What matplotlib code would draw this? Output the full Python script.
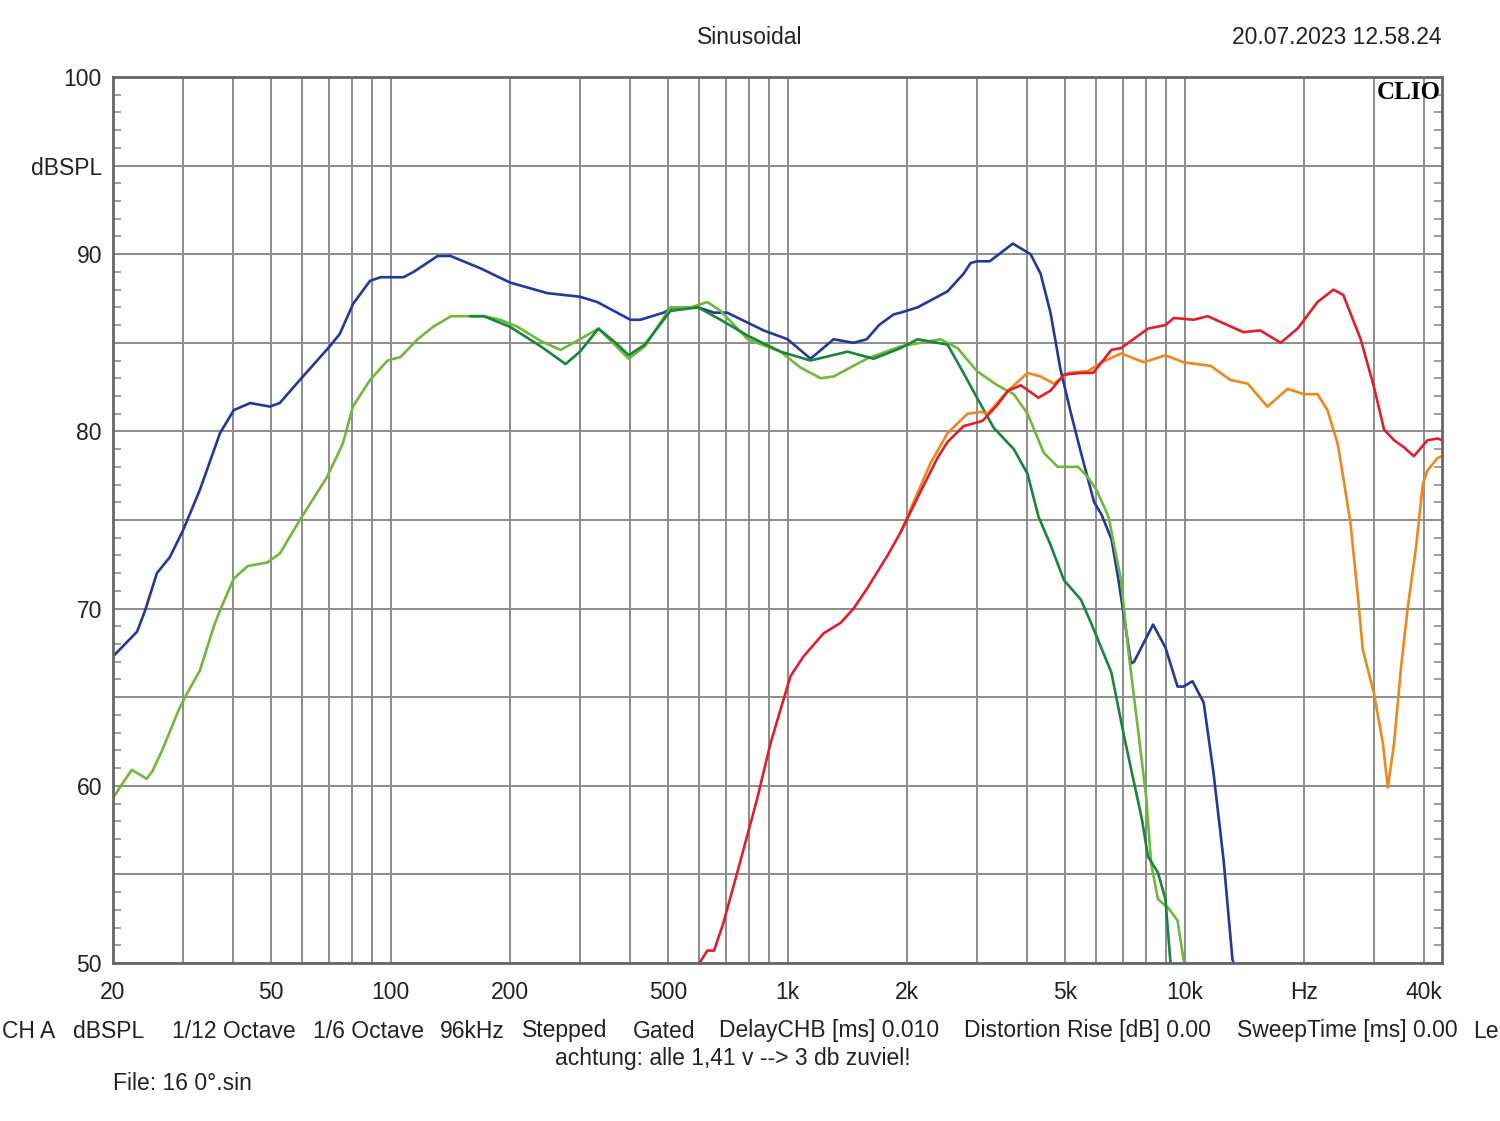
import numpy as np
import matplotlib
matplotlib.use('Agg')
import matplotlib.pyplot as plt
from matplotlib.ticker import NullLocator, MultipleLocator

plt.rcParams['font.family'] = ['Liberation Sans', 'DejaVu Sans']

# --- data (frequency in Hz, level in dBSPL) ---
blue_f = [20, 23.0, 24.1, 25.8, 27.8, 30, 33.1, 37.2, 40.3, 44.3, 49.7, 52.6, 59.1, 70.3,
          74.5, 80.5, 88.8, 94.4, 107.8, 114.3, 131.4, 141.6, 168.6, 200, 248.5, 300,
          331.7, 402, 426, 487, 516, 595, 653, 705, 870, 1000, 1143, 1306, 1466, 1583,
          1700, 1849, 1926, 2125, 2528, 2776, 2891, 3000, 3230, 3694, 4093, 4338, 4595,
          4868, 5176, 5483, 5918, 6180, 6547, 6818, 7330, 7460, 8330, 8950, 9600, 9940,
          10470, 11170, 11830, 12540, 13200, 13500]
blue_db = [67.3, 68.7, 69.9, 72.0, 72.9, 74.4, 76.7, 79.9, 81.2, 81.6, 81.4, 81.6, 82.9, 84.8,
           85.5, 87.2, 88.5, 88.7, 88.7, 89.0, 89.9, 89.9, 89.2, 88.4, 87.8, 87.6,
           87.3, 86.3, 86.3, 86.7, 87.0, 87.0, 86.7, 86.7, 85.7, 85.2, 84.1, 85.2, 85.0, 85.2,
           86.0, 86.6, 86.7, 87.0, 87.9, 88.9, 89.5, 89.6, 89.6, 90.6, 90.0, 88.9, 86.7,
           83.5, 81.0, 78.8, 76.0, 75.3, 73.9, 71.6, 66.9, 67.0, 69.1, 67.8, 65.6, 65.6,
           65.9, 64.7, 60.7, 55.8, 50.2, 49.5]

lgreen_f = [20, 20.8, 22.3, 24.3, 25.1, 26.6, 29.3, 30.7, 33.1, 35.9, 37.2, 40.3, 43.7, 48.9,
            52.6, 59.1, 69.1, 75.8, 80.4, 88.8, 98.3, 106, 117, 128, 142, 156, 172, 189,
            209, 239, 268, 300, 334, 398, 437, 507, 570, 628, 678, 794, 960, 1078, 1212,
            1306, 1583, 1926, 2428, 2680, 3000, 3378, 3714, 4023, 4417, 4791, 5393, 5713,
            6000, 6430, 6920, 7200, 7640, 8000, 8240, 8570, 9100, 9600, 9940, 10100]
lgreen_db = [59.3, 59.9, 60.9, 60.4, 60.8, 62.0, 64.3, 65.2, 66.5, 69.0, 69.9, 71.7, 72.4, 72.6,
             73.1, 75.0, 77.4, 79.3, 81.4, 82.9, 84.0, 84.2, 85.2, 85.9, 86.5, 86.5, 86.5, 86.3,
             85.9, 85.1, 84.6, 85.2, 85.8, 84.1, 84.8, 87.0, 87.0, 87.3, 86.8, 85.2, 84.5, 83.6, 83.0,
             83.1, 84.1, 84.8, 85.2, 84.7, 83.4, 82.6, 82.1, 81.0, 78.8, 78.0, 78.0, 77.4,
             76.7, 75.2, 71.6, 67.8, 63.1, 59.4, 55.6, 53.6, 53.1, 52.4, 50.2, 49.5]

dgreen_f = [159, 172, 200, 239, 276, 300, 334, 369, 398, 437, 507, 595, 678, 794, 960, 1143,
            1416, 1647, 1926, 2125, 2528, 2727, 3000, 3306, 3714, 4023, 4284, 4595, 4970,
            5483, 5810, 6540, 7040, 7810, 8090, 8570, 8950, 9200, 9300]
dgreen_db = [86.5, 86.5, 85.9, 84.8, 83.8, 84.5, 85.8, 85.0, 84.3, 84.9, 86.8, 87.0, 86.3, 85.4,
             84.5, 84.0, 84.5, 84.1, 84.7, 85.2, 84.9, 83.6, 81.9, 80.2, 79.0, 77.6, 75.2, 73.6,
             71.6, 70.5, 69.2, 66.4, 62.8, 58.1, 56.0, 55.1, 53.6, 50.2, 49.5]

red_f = [585, 628, 653, 688, 749, 794, 837, 906, 960, 1018, 1097, 1232, 1361, 1466, 1583,
         1786, 1926, 2005, 2162, 2386, 2528, 2776, 3000, 3100, 3378, 3594, 3871, 4284, 4595,
         4970, 5483, 5884, 6180, 6540, 6920, 8090, 8950, 9400, 10540, 11430, 14070, 15500,
         17460, 19250, 21620, 23710, 25100, 27770, 30000, 31800, 33700, 35700, 37800, 40900,
         43400, 44500]
red_db = [49.6, 50.7, 50.7, 52.2, 55.2, 57.3, 59.2, 62.4, 64.3, 66.2, 67.3, 68.6, 69.2, 70.0, 71.1,
          73.0, 74.3, 75.1, 76.6, 78.5, 79.4, 80.3, 80.5, 80.6, 81.5, 82.3, 82.6, 81.9, 82.3,
          83.2, 83.3, 83.3, 83.9, 84.6, 84.7, 85.8, 86.0, 86.4, 86.3, 86.5, 85.6, 85.7,
          85.0, 85.8, 87.3, 88.0, 87.7, 85.2, 82.5, 80.1, 79.5, 79.1, 78.6, 79.5,
          79.6, 79.5]

orange_f = [1926, 2076, 2290, 2528, 2840, 3070, 3190, 3594, 4023, 4338, 4680, 5090, 5713, 6180,
            6920, 7900, 8950, 9940, 11630, 13050, 14410, 16170, 18170, 20000, 21620, 22900,
            24300, 25100, 26180, 27270, 28100, 30000, 31580, 32500, 33700, 35100, 36500,
            38300, 39800, 40900, 43400, 44500]
orange_db = [74.3, 76.0, 78.2, 79.9, 81.0, 81.1, 81.0, 82.3, 83.3, 83.1, 82.7, 83.3, 83.4, 83.9,
             84.4, 83.9, 84.3, 83.9, 83.7, 82.9, 82.7, 81.4, 82.4, 82.1, 82.1, 81.2,
             79.3, 77.4, 74.8, 70.9, 67.7, 65.2, 62.4, 59.9, 62.4, 66.7, 70.1,
             73.5, 77.0, 77.8, 78.5, 78.6]

grid_freqs = [20, 30, 40, 50, 60, 70, 80, 90, 100, 200, 300, 400, 500, 600, 700, 800, 900,
              1000, 2000, 3000, 4000, 5000, 6000, 7000, 8000, 9000, 10000, 20000, 30000, 40000]
x_labels = {20: '20', 50: '50', 100: '100', 200: '200', 500: '500', 1000: '1k', 2000: '2k',
            5000: '5k', 10000: '10k', 20000: 'Hz', 40000: '40k'}
y_grid = [50, 55, 60, 65, 70, 75, 80, 85, 90, 95, 100]
y_labels = ['50', '', '60', '', '70', '', '80', '', '90', 'dBSPL', '100']

# --- figure ---
fig = plt.figure(figsize=(15, 11.21), dpi=100)
ax = fig.add_axes([113 / 1500, 1 - 963 / 1121, (1442 - 113) / 1500, (963 - 77) / 1121])

gcol = '#8c8c8c'
ax.set_xscale('log')
ax.set_xlim(20, 44500)
ax.set_ylim(50, 100)
ax.xaxis.set_minor_locator(NullLocator())
ax.set_xticks(grid_freqs)
ax.set_xticklabels([x_labels.get(f, '') for f in grid_freqs])
ax.set_yticks(y_grid)
ax.set_yticklabels(y_labels)
ax.yaxis.set_minor_locator(MultipleLocator(1))
ax.grid(True, which='major', color=gcol, linewidth=1.4)
ax.set_axisbelow(True)
ax.tick_params(axis='both', which='major', length=0, labelsize=16.5, colors='#222222')
ax.tick_params(axis='x', which='major', pad=13)
ax.tick_params(axis='y', which='major', pad=8)
ax.tick_params(axis='y', which='minor', direction='in', left=True, right=True,
               length=6, width=1.2, color=gcol)
for s in ax.spines.values():
    s.set_color('#666666')
    s.set_linewidth(2)

lw = 1.9
ax.plot(blue_f, blue_db, color='#22389a', lw=lw)
ax.plot(lgreen_f, lgreen_db, color='#6fb83a', lw=lw)
ax.plot(dgreen_f, dgreen_db, color='#17853a', lw=lw)
ax.plot(orange_f, orange_db, color='#f0861c', lw=lw)
ax.plot(red_f, red_db, color='#e01f2a', lw=lw)

ax.text(0.999, 0.995, 'CLIO', transform=ax.transAxes, ha='right', va='top',
        fontsize=18, fontweight='bold', family='Liberation Serif', color='black')

fs = 16.5
fig.text(750 / 1500, 1 - 38 / 1121, 'Sinusoidal', ha='center', va='center', fontsize=fs, color='#222222')
fig.text(1442 / 1500, 1 - 38 / 1121, '20.07.2023 12.58.24', ha='right', va='center', fontsize=fs, color='#222222')

bottom_items = [(2, 'CH A'), (73, 'dBSPL'), (172, '1/12 Octave'), (313, '1/6 Octave'), (440, '96kHz'),
                (522, 'Stepped'), (633, 'Gated'), (719, 'DelayCHB [ms] 0.010'),
                (964, 'Distortion Rise [dB] 0.00'), (1237, 'SweepTime [ms] 0.00'), (1473, 'Le')]
for xp, t in bottom_items:
    fig.text(xp / 1500, 1 - 1031 / 1121, t, ha='left', va='center', fontsize=fs, color='#222222')
fig.text(733 / 1500, 1 - 1058 / 1121, 'achtung: alle 1,41 v --> 3 db zuviel!', ha='center',
         va='center', fontsize=fs, color='#222222')
fig.text(113 / 1500, 1 - 1084 / 1121, 'File: 16 0°.sin', ha='left', va='center', fontsize=fs, color='#222222')

fig.savefig('out.png', dpi=100, facecolor='white')
